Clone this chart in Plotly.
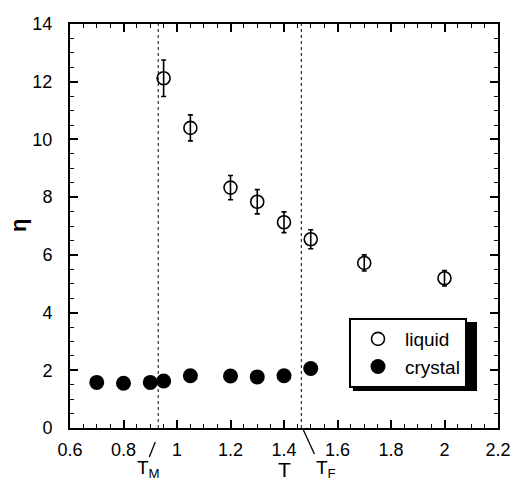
import plotly.graph_objects as go

# Viscosity of the liquid branch with error bars
T_liquid = [0.95, 1.05, 1.2, 1.3, 1.4, 1.5, 1.7, 2.0]
eta_liquid = [12.12, 10.40, 8.33, 7.84, 7.13, 6.54, 5.72, 5.19]
eta_liquid_err = [0.63, 0.45, 0.42, 0.42, 0.36, 0.33, 0.28, 0.27]

# Viscosity of the crystal branch
T_crystal = [0.7, 0.8, 0.9, 0.95, 1.05, 1.2, 1.3, 1.4, 1.5]
eta_crystal = [1.58, 1.55, 1.58, 1.63, 1.81, 1.80, 1.77, 1.81, 2.06]

# Melting and freezing temperatures marked by dotted lines
T_marks = [0.93, 1.465]
T_mark_labels = ["T<sub>M</sub>", "T<sub>F</sub>"]

x_ticks = [0.6, 0.8, 1.0, 1.2, 1.4, 1.6, 1.8, 2.0, 2.2]
x_tick_text = ["0.6", "0.8", "1", "1.2", "1.4", "1.6", "1.8", "2", "2.2"]
y_ticks = [0, 2, 4, 6, 8, 10, 12, 14]

FONT = "Liberation Sans, Arial, Helvetica, sans-serif"

# plot area in pixels
L, R, TOP, BOT = 70, 498, 24, 428
PW, PH = R - L, BOT - TOP


def px(x):
    return (x - L) / PW


def py(y):
    return (BOT - y) / PH


fig = go.Figure()

fig.add_trace(go.Scatter(
    x=T_liquid, y=eta_liquid, mode="markers", name="liquid",
    marker=dict(symbol="circle-open", size=13, color="black",
                line=dict(width=1.6, color="black")),
    error_y=dict(type="data", array=eta_liquid_err, visible=True,
                 color="black", thickness=1.6, width=2.5),
))

fig.add_trace(go.Scatter(
    x=T_crystal, y=eta_crystal, mode="markers", name="crystal",
    marker=dict(symbol="circle", size=15, color="black",
                line=dict(width=0)),
))

# dotted vertical reference lines
for t in T_marks:
    fig.add_shape(type="line", xref="x", yref="paper", x0=t, x1=t, y0=0, y1=1,
                  line=dict(color="#333333", width=1.2, dash="dot"), layer="below")

# short leader strokes below the axis
fig.add_shape(type="line", xref="x", yref="paper", xsizemode="pixel",
              xanchor=T_marks[0], x0=-9, x1=-3, y0=py(457), y1=py(442),
              line=dict(color="black", width=1.3))
fig.add_shape(type="line", xref="x", yref="paper", xsizemode="pixel",
              xanchor=T_marks[1], x0=2, x1=13, y0=py(430), y1=py(454),
              line=dict(color="black", width=1.3))

LABEL_Y = py(469)

fig.add_annotation(x=T_marks[0], xref="x", y=LABEL_Y, yref="paper", xshift=-10,
                   text=T_mark_labels[0], showarrow=False,
                   font=dict(family=FONT, size=19, color="black"),
                   xanchor="center", yanchor="middle")
fig.add_annotation(x=T_marks[1], xref="x", y=LABEL_Y, yref="paper", xshift=25,
                   text=T_mark_labels[1], showarrow=False,
                   font=dict(family=FONT, size=19, color="black"),
                   xanchor="center", yanchor="middle")

# axis titles
fig.add_annotation(x=0.5, xref="paper", y=LABEL_Y, yref="paper", text="T",
                   showarrow=False, font=dict(family=FONT, size=21, color="black"),
                   xanchor="center", yanchor="middle")
fig.add_annotation(x=px(18), xref="paper", y=0.5, yref="paper", text="<b>η</b>",
                   showarrow=False, textangle=-90,
                   font=dict(family=FONT, size=22, color="black"),
                   xanchor="center", yanchor="middle")

# legend box with a drop shadow
LEG_L, LEG_T, LEG_W, LEG_H = 349, 318, 124, 69
fig.add_shape(type="rect", xref="paper", yref="paper",
              x0=px(LEG_L + 4), x1=px(LEG_L + LEG_W + 4),
              y0=py(LEG_T + LEG_H + 4), y1=py(LEG_T + 4),
              fillcolor="black", line=dict(width=0), layer="above")

axis_common = dict(
    showline=True, linecolor="black", linewidth=2, mirror="allticks",
    ticks="inside", ticklen=8, tickwidth=1.5, tickcolor="black",
    showgrid=False, zeroline=False, automargin=False,
    tickfont=dict(family=FONT, size=18, color="black"),
)

fig.update_xaxes(range=[0.6, 2.2], tickvals=x_ticks, ticktext=x_tick_text,
                 minor=dict(dtick=0.05, ticklen=4, tickwidth=1.2,
                            ticks="inside", tickcolor="black", showgrid=False),
                 ticklabelstandoff=4, **axis_common)
fig.update_yaxes(range=[0, 14], tickvals=y_ticks,
                 minor=dict(dtick=0.5, ticklen=4, tickwidth=1.2,
                            ticks="inside", tickcolor="black", showgrid=False),
                 ticklabelstandoff=12, **axis_common)

fig.update_layout(
    width=514, height=480,
    margin=dict(l=L, r=514 - R, t=TOP, b=480 - BOT, autoexpand=False),
    paper_bgcolor="white", plot_bgcolor="white",
    showlegend=True,
    legend=dict(x=px(LEG_L), y=py(LEG_T),
                xanchor="left", yanchor="top",
                bgcolor="white", bordercolor="black", borderwidth=2,
                font=dict(family=FONT, size=19, color="black"),
                itemwidth=44, tracegroupgap=0,
                entrywidth=LEG_W - 6, entrywidthmode="pixels"),
    font=dict(family=FONT, color="black"),
)

fig.write_html("out.html")
